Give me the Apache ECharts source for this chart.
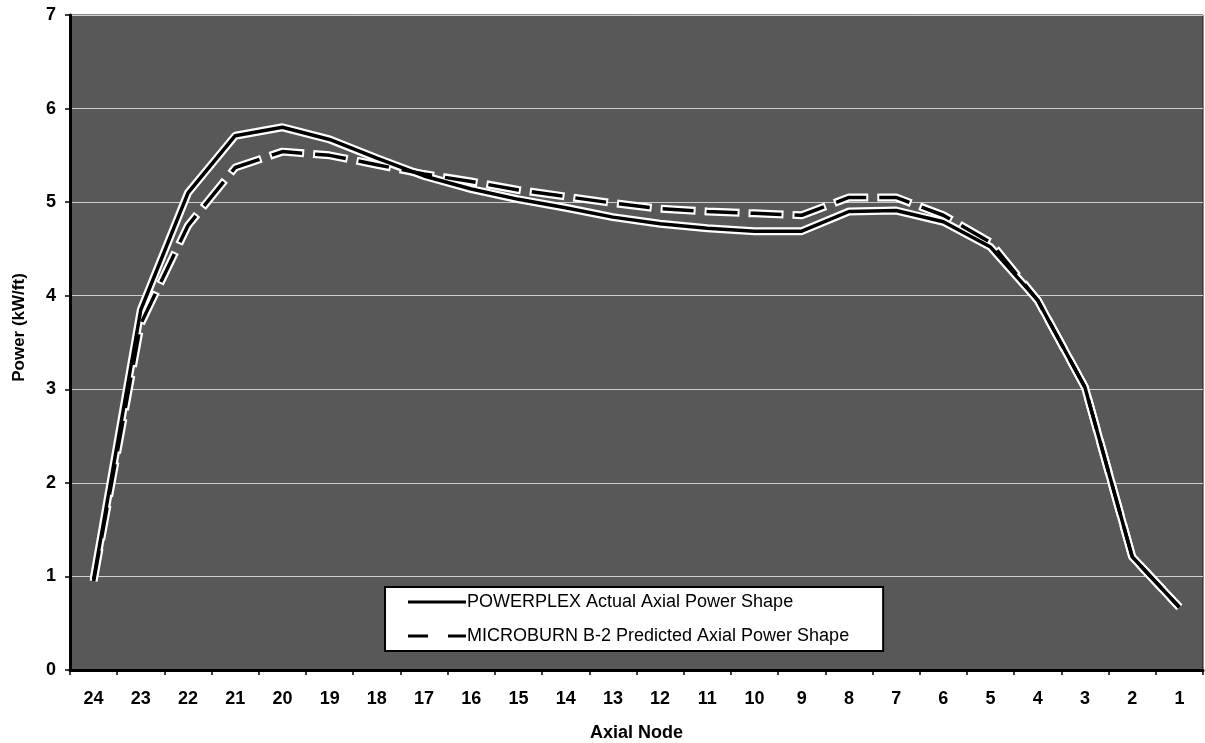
<!DOCTYPE html>
<html>
<head>
<meta charset="utf-8">
<script src="https://cdn.jsdelivr.net/npm/echarts@6/dist/echarts.min.js"></script>
<style>
html,body{margin:0;padding:0;background:#fff;}
#chart{width:1205px;height:743px;}
</style>
</head>
<body>
<div id="chart"></div>
<script>
const nodes = ['24','23','22','21','20','19','18','17','16','15','14','13','12','11','10','9','8','7','6','5','4','3','2','1'];
const powerplex = [0.97, 3.85, 5.1, 5.71, 5.8, 5.67, 5.47, 5.28, 5.14, 5.03, 4.94, 4.84, 4.77, 4.72, 4.69, 4.69, 4.9, 4.91, 4.79, 4.52, 3.95, 3.02, 1.21, 0.67];
const microburn = [0.95, 3.7, 4.75, 5.37, 5.54, 5.5, 5.4, 5.3, 5.22, 5.13, 5.06, 4.99, 4.93, 4.9, 4.88, 4.86, 5.05, 5.05, 4.86, 4.57, 3.95, 3.02, 1.21, 0.67];
const yTicks = [0, 1, 2, 3, 4, 5, 6, 7];
const nameSolid = 'POWERPLEX Actual Axial Power Shape';
const nameDash = 'MICROBURN B-2 Predicted Axial Power Shape';

const chart = echarts.init(document.getElementById('chart'));
const font = 'Liberation Sans, Arial, Helvetica, sans-serif';
chart.setOption({
  animation: false,
  backgroundColor: '#ffffff',
  grid: {
    left: 70, right: 2, top: 15, bottom: 73,
    containLabel: false,
    outerBoundsMode: 'none',
    show: true, backgroundColor: '#585858', borderColor: '#1a1a1a', borderWidth: 1
  },
  legend: {
    orient: 'vertical',
    left: 385, top: 587,
    backgroundColor: '#ffffff',
    borderColor: '#000000', borderWidth: 2,
    padding: [5, 34, 5, 23],
    itemWidth: 58, itemHeight: 3, itemGap: 14,
    textStyle: { fontFamily: font, fontSize: 18, lineHeight: 20, color: '#000', padding: [0, 0, 0, -4] },
    data: [
      { name: nameSolid, icon: 'path://M0,0H58V3H0Z', itemStyle: { color: '#000' } },
      { name: nameDash, icon: 'path://M0,0H20V3H0Z M40,0H58V3H40Z', itemStyle: { color: '#000' } }
    ]
  },
  xAxis: {
    type: 'category',
    data: nodes,
    boundaryGap: true,
    name: 'Axial Node',
    nameLocation: 'middle',
    nameGap: 54,
    nameTextStyle: { fontFamily: font, fontSize: 18, fontWeight: 'bold', color: '#000' },
    axisLine: { lineStyle: { color: '#000', width: 3 } },
    axisTick: { show: true, length: 5, lineStyle: { color: '#000', width: 1.5 } },
    axisLabel: { fontFamily: font, fontSize: 18, fontWeight: 'bold', color: '#000', margin: 20 },
    splitLine: { show: false }
  },
  yAxis: {
    type: 'value',
    min: yTicks[0], max: yTicks[yTicks.length - 1], interval: 1,
    name: 'Power (kW/ft)',
    nameLocation: 'middle',
    nameGap: 42,
    nameTextStyle: { fontFamily: font, fontSize: 17, fontWeight: 'bold', color: '#000', padding: [0, 0, 0, 30] },
    axisLine: { show: true, lineStyle: { color: '#000', width: 3 } },
    axisTick: { show: true, length: 5, lineStyle: { color: '#000', width: 1.5 } },
    axisLabel: { fontFamily: font, fontSize: 18, fontWeight: 'bold', color: '#000', margin: 14 },
    splitLine: { show: true, lineStyle: { color: '#cfcfcf', width: 1.2 } }
  },
  series: [
    {
      name: nameSolid + ' halo', type: 'line', data: powerplex, symbol: 'none', silent: true,
      lineStyle: { color: '#ffffff', width: 8 }, z: 2
    },
    {
      name: nameDash + ' halo', type: 'line', data: microburn, symbol: 'none', silent: true,
      lineStyle: { color: '#ffffff', width: 8, type: [35, 9], dashOffset: 2 }, z: 2
    },
    {
      name: nameSolid, type: 'line', data: powerplex, symbol: 'none',
      itemStyle: { color: '#000' },
      lineStyle: { color: '#000000', width: 3.5 }, z: 3
    },
    {
      name: nameDash, type: 'line', data: microburn, symbol: 'none',
      itemStyle: { color: '#000' },
      lineStyle: { color: '#000000', width: 3.5, type: [31, 13] }, z: 3
    }
  ]
});
</script>
</body>
</html>
